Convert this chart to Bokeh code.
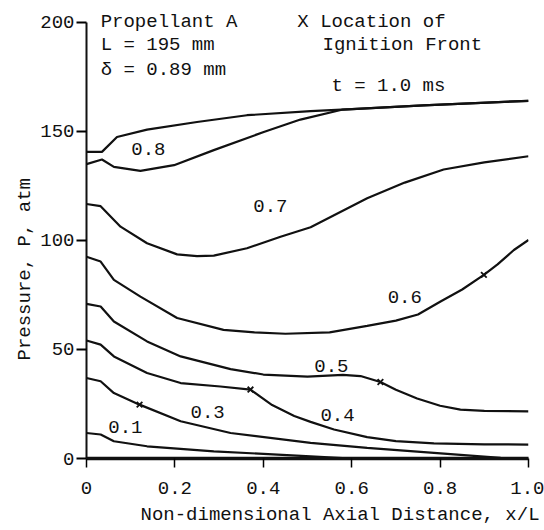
from bokeh.plotting import figure
from bokeh.models import Label, Range1d, FixedTicker, Title
from bokeh.embed import file_html
from bokeh.resources import INLINE

FONT = "Liberation Mono"
FS = "19px"

# t = 1.0 ms
x_10 = [0, 0.035, 0.069, 0.137, 0.25, 0.363, 0.507, 0.6, 0.762, 1.0]
p_10 = [140.6, 140.6, 147.4, 150.8, 154.3, 157.4, 159.3, 160.2, 161.9, 164.0]
# t = 0.8 ms
x_08 = [0, 0.035, 0.062, 0.122, 0.198, 0.288, 0.401, 0.484, 0.58, 0.762, 1.0]
p_08 = [135.0, 137.1, 133.7, 131.9, 134.5, 141.4, 149.7, 155.4, 160.0, 161.9, 164.0]
# t = 0.7 ms
x_07 = [0, 0.032, 0.077, 0.137, 0.205, 0.25, 0.288, 0.363, 0.439, 0.507, 0.635, 0.72, 0.808, 0.9, 1.0]
p_07 = [116.7, 115.7, 106.3, 98.7, 93.6, 92.8, 93.0, 96.4, 101.7, 106.0, 119.3, 126.5, 132.5, 135.8, 138.6]
# t = 0.6 ms
x_06 = [0, 0.032, 0.062, 0.122, 0.205, 0.31, 0.38, 0.45, 0.55, 0.635, 0.7, 0.75, 0.801, 0.85, 0.899, 0.93, 0.967, 1.0]
p_06 = [92.5, 90.3, 81.9, 74.2, 64.4, 59.0, 57.8, 57.2, 57.8, 60.8, 63.2, 66.0, 72.0, 77.5, 84.2, 89.0, 95.6, 100.2]
# t = 0.5 ms
x_05 = [0, 0.032, 0.062, 0.137, 0.213, 0.326, 0.4, 0.5, 0.58, 0.62, 0.665, 0.7, 0.748, 0.8, 0.846, 0.9, 1.0]
p_05 = [70.9, 69.7, 62.8, 53.7, 46.8, 41.0, 38.5, 37.5, 38.3, 37.8, 35.1, 31.5, 27.5, 24.2, 22.4, 21.8, 21.6]
# t = 0.4 ms
x_04 = [0, 0.032, 0.062, 0.137, 0.213, 0.303, 0.371, 0.42, 0.47, 0.507, 0.56, 0.635, 0.7, 0.786, 0.9, 1.0]
p_04 = [54.1, 52.2, 46.8, 39.2, 34.6, 33.0, 31.6, 24.5, 19.5, 16.8, 13.3, 9.8, 8.0, 6.9, 6.5, 6.4]
# t = 0.3 ms
x_03 = [0, 0.032, 0.062, 0.12, 0.213, 0.326, 0.507, 0.635, 0.786, 0.937, 1.0]
p_03 = [36.9, 35.4, 30.0, 24.7, 17.1, 11.7, 7.2, 4.9, 2.6, 0.3, 0.0]
# t = 0.1 ms
x_01 = [0, 0.032, 0.062, 0.137, 0.288, 0.507, 0.6]
p_01 = [11.7, 11.0, 7.9, 5.6, 3.3, 1.0, 0.0]

# ignition front locations
front_x = [0.12, 0.371, 0.665, 0.899]
front_p = [24.7, 31.6, 35.1, 84.2]

x_ticks = [0, 0.2, 0.4, 0.6, 0.8, 1.0]
x_tick_labels = {0: "0", 0.2: "0.2", 0.4: "0.4", 0.6: "0.6", 0.8: "0.8", 1.0: "1.0"}
y_ticks = [0, 50, 100, 150, 200]

curves = [(x_10, p_10), (x_08, p_08), (x_07, p_07), (x_06, p_06),
          (x_05, p_05), (x_04, p_04), (x_03, p_03), (x_01, p_01)]

p = figure(width=544, height=530, output_backend="svg", toolbar_location=None,
           x_range=Range1d(0, 1.0), y_range=Range1d(0, 210))
p.min_border_left = 86
p.min_border_right = 16
p.min_border_top = 0
p.min_border_bottom = 71
p.outline_line_color = None
p.grid.visible = False
p.background_fill_color = "white"

INK = "#111111"
for xs, ps in curves:
    p.line(xs, ps, line_color=INK, line_width=2.2)

p.scatter(front_x, front_p, marker="x", size=8, line_color=INK, line_width=1.8)

xa = p.xaxis[0]
xa.ticker = FixedTicker(ticks=x_ticks)
xa.major_label_overrides = x_tick_labels
xa.axis_line_width = 3.5
xa.axis_line_color = INK
xa.major_tick_out = 9
xa.major_tick_in = 0
xa.major_tick_line_width = 1.5
xa.minor_tick_line_color = None
xa.major_label_text_font = FONT
xa.major_label_text_font_size = FS
xa.major_label_text_color = INK
xa.major_label_standoff = 14

ya = p.yaxis[0]
ya.ticker = FixedTicker(ticks=y_ticks)
ya.bounds = (0, 200)
ya.axis_line_width = 2
ya.axis_line_color = INK
ya.major_tick_out = 10
ya.major_tick_in = 0
ya.major_tick_line_width = 2
ya.minor_tick_line_color = None
ya.major_label_text_font = FONT
ya.major_label_text_font_size = FS
ya.major_label_text_color = INK
ya.major_label_standoff = 2

p.add_layout(Title(text="Non-dimensional Axial Distance, x/L", align="left", offset=54,
                   text_font=FONT, text_font_size=FS, text_font_style="normal",
                   text_color=INK, standoff=10), "below")
p.add_layout(Title(text="Pressure, P, atm", align="left", offset=98,
                   text_font=FONT, text_font_size=FS, text_font_style="normal",
                   text_color=INK, standoff=3), "left")


def lab(x, y, text, align="left"):
    p.add_layout(Label(x=x, y=y, text=text, text_font=FONT, text_font_size=FS,
                       text_color=INK, text_align=align, text_baseline="middle"))


lab(0.032, 200.0, "Propellant A")
lab(0.032, 189.5, "L = 195 mm")
lab(0.032, 178.0, "\u03b4 = 0.89 mm")
lab(0.477, 200.0, "X Location of")
lab(0.534, 189.5, "Ignition Front")
lab(0.683, 170.6, "t = 1.0 ms", "center")
lab(0.14, 142.0, "0.8", "center")
lab(0.416, 116.0, "0.7", "center")
lab(0.72, 74.0, "0.6", "center")
lab(0.554, 42.3, "0.5", "center")
lab(0.568, 20.0, "0.4", "center")
lab(0.274, 21.5, "0.3", "center")
lab(0.088, 14.6, "0.1", "center")

open("out.html", "w").write(file_html(p, INLINE))
